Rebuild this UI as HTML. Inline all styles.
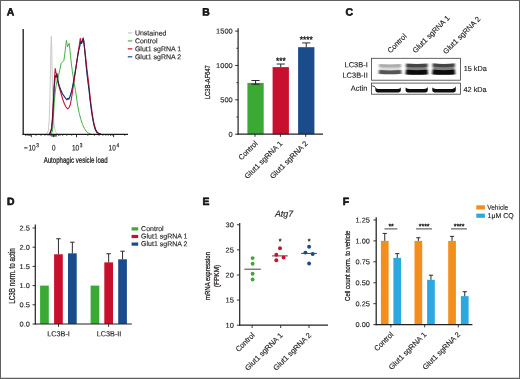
<!DOCTYPE html>
<html lang="en"><head><meta charset="utf-8"><title>Figure</title>
<style>html,body{margin:0;padding:0;background:#fff;overflow:hidden}svg{display:block;will-change:transform}text{font-family:"Liberation Sans", Arial, Helvetica, sans-serif;fill:#231F20;stroke:#231F20;stroke-width:0.14px}</style></head><body>
<svg width="520" height="379" viewBox="0 0 520 379">
<defs><filter id="b1" x="-20%" y="-80%" width="140%" height="260%"><feGaussianBlur stdDeviation="0.9 0.75"/></filter><filter id="b2" x="-20%" y="-80%" width="140%" height="260%"><feGaussianBlur stdDeviation="0.6 0.5"/></filter></defs>
<rect x="0" y="0" width="520" height="379" fill="#fff"/>
<text transform="translate(6.7 15.4) rotate(0.1)" font-size="10.4" font-weight="bold" fill="#000" style="stroke:#000;stroke-width:0.55px;stroke-linejoin:round">A</text>
<text transform="translate(202.2 15.4) rotate(0.1)" font-size="10.4" font-weight="bold" fill="#000" style="stroke:#000;stroke-width:0.55px;stroke-linejoin:round">B</text>
<text transform="translate(345.5 15.4) rotate(0.1)" font-size="10.4" font-weight="bold" fill="#000" style="stroke:#000;stroke-width:0.55px;stroke-linejoin:round">C</text>
<text transform="translate(6.9 205.0) rotate(0.1)" font-size="10.4" font-weight="bold" fill="#000" style="stroke:#000;stroke-width:0.55px;stroke-linejoin:round">D</text>
<text transform="translate(202.6 205.0) rotate(0.1)" font-size="10.4" font-weight="bold" fill="#000" style="stroke:#000;stroke-width:0.55px;stroke-linejoin:round">E</text>
<text transform="translate(342.8 205.0) rotate(0.1)" font-size="10.4" font-weight="bold" fill="#000" style="stroke:#000;stroke-width:0.55px;stroke-linejoin:round">F</text>
<g id="panelA">
<polyline points="46.5,134.0 48.3,131.0 49.2,120.0 49.9,100.0 50.5,70.0 51.0,44.0 51.3,36.4 51.7,47.0 52.3,80.0 53.0,108.0 54.0,125.0 55.5,132.0 58.0,134.0" fill="none" stroke="#C4C4C4" stroke-width="0.9" stroke-linejoin="round" stroke-linecap="round"/>
<polyline points="51.5,134.0 52.6,130.0 53.4,118.0 54.2,104.0 55.0,94.0 56.0,86.0 57.2,80.0 58.5,76.0 59.8,69.6 61.2,63.4 62.5,61.8 63.8,60.8 64.5,56.0 65.2,50.5 65.8,45.6 66.4,40.3 67.0,43.8 67.5,46.8 68.3,45.0 69.2,43.3 69.8,48.5 70.5,55.5 71.4,64.0 72.4,71.5 73.3,77.5 74.3,83.5 75.5,90.5 76.9,100.0 77.9,107.0 79.3,113.5 80.9,119.5 82.6,124.6 84.4,128.5 86.3,131.3 88.3,133.0 90.5,134.0" fill="none" stroke="#45B340" stroke-width="1.0" stroke-linejoin="round" stroke-linecap="round"/>
<polyline points="49.8,134.0 51.6,129.0 52.6,118.0 53.4,104.0 54.2,88.0 55.0,78.0 55.7,75.5 56.3,77.0 57.0,73.5 57.7,78.0 58.4,83.0 59.4,86.5 60.8,90.0 62.3,93.5 64.0,96.0 65.6,98.3 67.0,99.8 68.0,98.2 68.8,99.2 70.0,96.5 71.4,92.0 72.6,86.5 73.8,80.0 75.0,73.0 76.2,65.5 77.4,58.0 78.6,51.0 79.8,46.0 80.8,41.8 81.6,43.2 82.4,40.4 83.2,38.0 83.9,41.4 84.5,48.0 85.4,57.5 86.5,69.5 87.7,80.0 89.0,90.0 89.9,98.5 90.7,105.0 91.5,111.0 92.4,117.0 93.3,122.0 94.2,126.0 95.3,129.5 96.6,132.0 98.2,133.4 100.4,134.0" fill="none" stroke="#1F5596" stroke-width="1.05" stroke-linejoin="round" stroke-linecap="round"/>
<polyline points="49.4,134.0 51.2,130.0 52.2,122.0 53.0,108.0 53.8,92.0 54.5,78.0 55.2,68.6 55.9,72.0 56.7,76.0 57.6,81.0 58.8,85.5 60.2,90.5 61.5,95.0 63.0,100.0 64.5,104.0 66.0,107.0 67.6,108.8 69.0,107.6 70.2,105.0 71.2,100.0 72.3,93.0 73.4,85.5 74.6,77.0 75.8,69.0 77.0,60.5 78.2,52.0 79.3,45.0 80.3,38.4 81.0,41.5 81.6,43.4 82.4,41.0 83.0,39.6 83.7,42.5 84.6,48.0 85.6,56.5 86.6,66.0 87.6,74.5 88.6,82.3 89.4,90.0 90.3,98.5 91.1,105.0 91.9,111.0 92.8,117.0 93.7,122.0 94.6,126.0 95.7,129.5 97.0,132.0 98.6,133.4 100.6,134.0" fill="none" stroke="#CC1236" stroke-width="1.1" stroke-linejoin="round" stroke-linecap="round"/>
<g style="mix-blend-mode:multiply" opacity="0.6">
<polyline points="49.8,134.0 51.6,129.0 52.6,118.0 53.4,104.0 54.2,88.0 55.0,78.0 55.7,75.5 56.3,77.0 57.0,73.5 57.7,78.0 58.4,83.0 59.4,86.5 60.8,90.0 62.3,93.5 64.0,96.0 65.6,98.3 67.0,99.8 68.0,98.2 68.8,99.2 70.0,96.5 71.4,92.0 72.6,86.5 73.8,80.0 75.0,73.0 76.2,65.5 77.4,58.0 78.6,51.0 79.8,46.0 80.8,41.8 81.6,43.2 82.4,40.4 83.2,38.0 83.9,41.4 84.5,48.0 85.4,57.5 86.5,69.5 87.7,80.0 89.0,90.0 89.9,98.5 90.7,105.0 91.5,111.0 92.4,117.0 93.3,122.0 94.2,126.0 95.3,129.5 96.6,132.0 98.2,133.4 100.4,134.0" fill="none" stroke="#1F5596" stroke-width="1.05" stroke-linejoin="round" stroke-linecap="round"/>
</g>
<line x1="23.2" y1="29" x2="23.2" y2="134.9" stroke="#1a1a1a" stroke-width="1.3"/>
<line x1="22.6" y1="134.3" x2="128" y2="134.3" stroke="#1a1a1a" stroke-width="1.3"/>
<line x1="31.3" y1="134.3" x2="31.3" y2="137.2" stroke="#1a1a1a" stroke-width="0.9"/>
<line x1="53.8" y1="134.3" x2="53.8" y2="137.2" stroke="#1a1a1a" stroke-width="0.9"/>
<line x1="76.5" y1="134.3" x2="76.5" y2="137.2" stroke="#1a1a1a" stroke-width="0.9"/>
<line x1="113.6" y1="134.3" x2="113.6" y2="137.2" stroke="#1a1a1a" stroke-width="0.9"/>
<line x1="25.5" y1="134.3" x2="25.5" y2="136.0" stroke="#1a1a1a" stroke-width="0.6"/>
<line x1="27" y1="134.3" x2="27" y2="136.0" stroke="#1a1a1a" stroke-width="0.6"/>
<line x1="28.3" y1="134.3" x2="28.3" y2="136.0" stroke="#1a1a1a" stroke-width="0.6"/>
<line x1="29.4" y1="134.3" x2="29.4" y2="136.0" stroke="#1a1a1a" stroke-width="0.6"/>
<line x1="30.3" y1="134.3" x2="30.3" y2="136.0" stroke="#1a1a1a" stroke-width="0.6"/>
<line x1="36" y1="134.3" x2="36" y2="136.0" stroke="#1a1a1a" stroke-width="0.6"/>
<line x1="41" y1="134.3" x2="41" y2="136.0" stroke="#1a1a1a" stroke-width="0.6"/>
<line x1="45" y1="134.3" x2="45" y2="136.0" stroke="#1a1a1a" stroke-width="0.6"/>
<line x1="48" y1="134.3" x2="48" y2="136.0" stroke="#1a1a1a" stroke-width="0.6"/>
<line x1="50" y1="134.3" x2="50" y2="136.0" stroke="#1a1a1a" stroke-width="0.6"/>
<line x1="58.5" y1="134.3" x2="58.5" y2="136.0" stroke="#1a1a1a" stroke-width="0.6"/>
<line x1="60" y1="134.3" x2="60" y2="136.0" stroke="#1a1a1a" stroke-width="0.6"/>
<line x1="62.7" y1="134.3" x2="62.7" y2="136.0" stroke="#1a1a1a" stroke-width="0.6"/>
<line x1="66.7" y1="134.3" x2="66.7" y2="136.0" stroke="#1a1a1a" stroke-width="0.6"/>
<line x1="71.7" y1="134.3" x2="71.7" y2="136.0" stroke="#1a1a1a" stroke-width="0.6"/>
<line x1="87.8" y1="134.3" x2="87.8" y2="136.0" stroke="#1a1a1a" stroke-width="0.6"/>
<line x1="94.4" y1="134.3" x2="94.4" y2="136.0" stroke="#1a1a1a" stroke-width="0.6"/>
<line x1="99.1" y1="134.3" x2="99.1" y2="136.0" stroke="#1a1a1a" stroke-width="0.6"/>
<line x1="102.8" y1="134.3" x2="102.8" y2="136.0" stroke="#1a1a1a" stroke-width="0.6"/>
<line x1="105.8" y1="134.3" x2="105.8" y2="136.0" stroke="#1a1a1a" stroke-width="0.6"/>
<line x1="108.3" y1="134.3" x2="108.3" y2="136.0" stroke="#1a1a1a" stroke-width="0.6"/>
<line x1="110.5" y1="134.3" x2="110.5" y2="136.0" stroke="#1a1a1a" stroke-width="0.6"/>
<line x1="112.2" y1="134.3" x2="112.2" y2="136.0" stroke="#1a1a1a" stroke-width="0.6"/>
<line x1="124.8" y1="134.3" x2="124.8" y2="136.0" stroke="#1a1a1a" stroke-width="0.6"/>
<line x1="51.2" y1="134.3" x2="51.2" y2="136.6" stroke="#1a1a1a" stroke-width="0.6"/>
<line x1="51.95" y1="134.3" x2="51.95" y2="136.6" stroke="#1a1a1a" stroke-width="0.6"/>
<line x1="52.7" y1="134.3" x2="52.7" y2="136.6" stroke="#1a1a1a" stroke-width="0.6"/>
<line x1="53.45" y1="134.3" x2="53.45" y2="136.6" stroke="#1a1a1a" stroke-width="0.6"/>
<line x1="54.2" y1="134.3" x2="54.2" y2="136.6" stroke="#1a1a1a" stroke-width="0.6"/>
<line x1="54.95" y1="134.3" x2="54.95" y2="136.6" stroke="#1a1a1a" stroke-width="0.6"/>
<line x1="55.7" y1="134.3" x2="55.7" y2="136.6" stroke="#1a1a1a" stroke-width="0.6"/>
<line x1="56.45" y1="134.3" x2="56.45" y2="136.6" stroke="#1a1a1a" stroke-width="0.6"/>
<text transform="translate(23.9 150.6) rotate(0.1) scale(0.8 1)" font-size="8" style="stroke-width:0.2px">−<tspan dx="1.1">10</tspan><tspan font-size="6" dx="0.9" dy="-3.5">3</tspan></text>
<text transform="translate(52.0 150.6) rotate(0.1) scale(0.8 1)" font-size="8" style="stroke-width:0.2px">0</text>
<text transform="translate(72.0 150.6) rotate(0.1) scale(0.8 1)" font-size="8" style="stroke-width:0.2px">10<tspan font-size="6" dx="0.9" dy="-3.5">3</tspan></text>
<text transform="translate(108.6 150.6) rotate(0.1) scale(0.8 1)" font-size="8" style="stroke-width:0.2px">10<tspan font-size="6" dx="0.9" dy="-3.5">4</tspan></text>
<text transform="translate(75.6 162.8) rotate(0.1)" font-size="8" text-anchor="middle" textLength="63.9" lengthAdjust="spacingAndGlyphs" style="stroke-width:0.28px">Autophagic vesicle load</text>
<line x1="127.8" y1="32.95" x2="132.3" y2="32.95" stroke="#C9C9C9" stroke-width="1.2"/>
<text transform="translate(134.9 35.35) rotate(0.1)" font-size="7">Unstained</text>
<line x1="127.8" y1="40.900000000000006" x2="132.3" y2="40.900000000000006" stroke="#4DB748" stroke-width="1.2"/>
<text transform="translate(134.9 43.300000000000004) rotate(0.1)" font-size="7">Control</text>
<line x1="127.8" y1="48.85" x2="132.3" y2="48.85" stroke="#C8102E" stroke-width="1.2"/>
<text transform="translate(134.9 51.25) rotate(0.1)" font-size="7">Glut1 sgRNA 1</text>
<line x1="127.8" y1="56.800000000000004" x2="132.3" y2="56.800000000000004" stroke="#1A4C8B" stroke-width="1.2"/>
<text transform="translate(134.9 59.2) rotate(0.1)" font-size="7">Glut1 sgRNA 2</text>
</g>
<g id="panelB">
<rect x="247.40" y="82.92" width="16.30" height="51.28" fill="#3BAA34"/>
<rect x="272.60" y="67.11" width="16.30" height="67.09" fill="#C8102E"/>
<rect x="298.10" y="47.18" width="16.30" height="87.02" fill="#1A4C8B"/>
<line x1="255.55" y1="80.51406" x2="255.55" y2="84.22601999999999" stroke="#231F20" stroke-width="0.95"/>
<line x1="251.45000000000002" y1="80.51406" x2="259.65000000000003" y2="80.51406" stroke="#231F20" stroke-width="0.95"/>
<line x1="251.45000000000002" y1="84.22601999999999" x2="259.65000000000003" y2="84.22601999999999" stroke="#231F20" stroke-width="0.95"/>
<line x1="280.75" y1="64.01646" x2="280.75" y2="67.10976" stroke="#231F20" stroke-width="0.95"/>
<line x1="276.65" y1="64.01646" x2="284.85" y2="64.01646" stroke="#231F20" stroke-width="0.95"/>
<line x1="306.25" y1="42.91328" x2="306.25" y2="47.17515999999999" stroke="#231F20" stroke-width="0.95"/>
<line x1="302.15" y1="42.91328" x2="310.35" y2="42.91328" stroke="#231F20" stroke-width="0.95"/>
<line x1="238.1" y1="28.3" x2="238.1" y2="134.8" stroke="#222" stroke-width="1.2"/>
<line x1="237.5" y1="134.2" x2="323" y2="134.2" stroke="#222" stroke-width="1.2"/>
<line x1="235.2" y1="134.2" x2="238.1" y2="134.2" stroke="#1a1a1a" stroke-width="0.9"/>
<text transform="translate(232.7 136.7) rotate(0.1) scale(1.07 1)" font-size="7" text-anchor="end">0</text>
<line x1="235.2" y1="99.82999999999998" x2="238.1" y2="99.82999999999998" stroke="#1a1a1a" stroke-width="0.9"/>
<text transform="translate(232.7 102.32999999999998) rotate(0.1) scale(1.07 1)" font-size="7" text-anchor="end">500</text>
<line x1="235.2" y1="65.46" x2="238.1" y2="65.46" stroke="#1a1a1a" stroke-width="0.9"/>
<text transform="translate(232.7 67.96) rotate(0.1) scale(1.07 1)" font-size="7" text-anchor="end">1000</text>
<line x1="235.2" y1="31.08999999999999" x2="238.1" y2="31.08999999999999" stroke="#1a1a1a" stroke-width="0.9"/>
<text transform="translate(232.7 33.58999999999999) rotate(0.1) scale(1.07 1)" font-size="7" text-anchor="end">1500</text>
<line x1="236.3" y1="117.01499999999999" x2="238.1" y2="117.01499999999999" stroke="#222" stroke-width="0.8"/>
<line x1="236.3" y1="82.64499999999998" x2="238.1" y2="82.64499999999998" stroke="#222" stroke-width="0.8"/>
<line x1="236.3" y1="48.27499999999999" x2="238.1" y2="48.27499999999999" stroke="#222" stroke-width="0.8"/>
<line x1="255.0" y1="134.2" x2="255.0" y2="136.8" stroke="#1a1a1a" stroke-width="0.9"/>
<line x1="280.4" y1="134.2" x2="280.4" y2="136.8" stroke="#1a1a1a" stroke-width="0.9"/>
<line x1="305.7" y1="134.2" x2="305.7" y2="136.8" stroke="#1a1a1a" stroke-width="0.9"/>
<text transform="translate(280.8 63.5) rotate(0.1)" font-size="8.4" text-anchor="middle" style="stroke-width:0.35px">***</text>
<text transform="translate(306.2 42.2) rotate(0.1)" font-size="8.4" text-anchor="middle" style="stroke-width:0.35px">****</text>
<text transform="translate(209.5 82.2) rotate(-90)" font-size="8" text-anchor="middle" textLength="34.2" lengthAdjust="spacingAndGlyphs" style="stroke-width:0.28px">LC3B-AF647</text>
<text transform="translate(258.09999999999997 144.0) rotate(-45)" font-size="7.55" text-anchor="end" textLength="23.4" lengthAdjust="spacingAndGlyphs">Control</text>
<text transform="translate(282.9 144.0) rotate(-45)" font-size="7.55" text-anchor="end">Glut1 sgRNA 1</text>
<text transform="translate(308.2 144.0) rotate(-45)" font-size="7.55" text-anchor="end">Glut1 sgRNA 2</text>
</g>
<g id="panelC">
<text transform="translate(390.4 53.4) rotate(-45)" font-size="7.45" textLength="23.6" lengthAdjust="spacingAndGlyphs">Control</text>
<text transform="translate(415.4 53.4) rotate(-45)" font-size="7.45">Glut1 sgRNA 1</text>
<text transform="translate(446.1 54.4) rotate(-45)" font-size="7.45">Glut1 sgRNA 2</text>
<rect x="371.4" y="58.3" width="89.0" height="21.9" fill="#fff" stroke="#3f3f3f" stroke-width="0.8"/>
<rect x="371.4" y="83.1" width="89.0" height="11.1" fill="#fff" stroke="#3f3f3f" stroke-width="0.8"/>
<g filter="url(#b1)">
<rect x="379.20" y="64.60" width="21.80" height="9.60" fill="#DADADA"/>
<path d="M379.0 65.50 Q390.1 66.50 401.2 65.50" fill="none" stroke="#ADADAD" stroke-width="3.0"/>
<path d="M378.8 71.90 Q390.1 72.90 401.4 71.90" fill="none" stroke="#555555" stroke-width="3.9"/>
<rect x="406.20" y="64.20" width="21.20" height="10.40" fill="#808080"/>
<path d="M406.0 65.10 Q416.8 66.10 427.6 65.10" fill="none" stroke="#444444" stroke-width="3.4"/>
<path d="M405.8 72.00 Q416.8 73.00 427.8 72.00" fill="none" stroke="#080808" stroke-width="4.7"/>
<rect x="432.80" y="64.20" width="21.80" height="10.40" fill="#808080"/>
<path d="M432.6 64.90 Q443.7 66.30 454.8 64.90" fill="none" stroke="#444444" stroke-width="3.4"/>
<path d="M432.4 71.80 Q443.7 73.20 455.0 71.80" fill="none" stroke="#080808" stroke-width="4.7"/>
</g>
<g filter="url(#b2)" fill="#0a0a0a">
<path d="M375.4 87.4 L375.4 90.6 Q375.4 92.4 377.59999999999997 92.4 L398.6 92.4 Q400.8 92.4 400.8 90.6 L400.8 87.4 Q399.8 89.0 397.2 89.0 L379.0 89.0 Q376.4 89.0 375.4 87.4 Z"/>
<path d="M405.6 87.6 L405.6 90.6 Q405.6 92.4 407.8 92.4 L425.6 92.4 Q427.8 92.4 427.8 90.6 L427.8 87.2 Q426.8 89.0 424.2 89.0 L409.20000000000005 89.0 Q406.6 89.0 405.6 87.6 Z"/>
<path d="M432.3 87.6 L432.3 90.6 Q432.3 92.4 434.5 92.4 L453.6 92.4 Q455.8 92.4 455.8 90.6 L455.8 86.2 Q454.8 89.0 452.2 89.0 L435.90000000000003 89.0 Q433.3 89.0 432.3 87.6 Z"/>
</g>
<path d="M372.3 85.9 Q374.4 85.9 375.6 87.6" fill="none" stroke="#2a2a2a" stroke-width="1.0" filter="url(#b2)"/>
<text transform="translate(367.7 67.3) rotate(0.1)" font-size="7.45" text-anchor="end">LC3B-I</text>
<text transform="translate(367.7 77.7) rotate(0.1)" font-size="7.45" text-anchor="end">LC3B-II</text>
<text transform="translate(367.4 90.7) rotate(0.1)" font-size="7.45" text-anchor="end">Actin</text>
<text transform="translate(463.7 70.9) rotate(0.1)" font-size="7.3">15 kDa</text>
<text transform="translate(463.5 91.9) rotate(0.1)" font-size="7.3">42 kDa</text>
</g>
<g id="panelD">
<rect x="40.10" y="285.60" width="8.70" height="38.40" fill="#3BAA34"/>
<rect x="54.10" y="254.30" width="8.70" height="69.70" fill="#C8102E"/>
<rect x="68.00" y="253.34" width="8.70" height="70.66" fill="#1A4C8B"/>
<rect x="90.60" y="285.60" width="8.70" height="38.40" fill="#3BAA34"/>
<rect x="104.30" y="262.37" width="8.70" height="61.63" fill="#C8102E"/>
<rect x="118.20" y="259.30" width="8.70" height="64.70" fill="#1A4C8B"/>
<line x1="58.45" y1="238.752" x2="58.45" y2="254.304" stroke="#231F20" stroke-width="0.95"/>
<line x1="56.25" y1="238.752" x2="60.650000000000006" y2="238.752" stroke="#231F20" stroke-width="0.95"/>
<line x1="72.35" y1="242.20800000000003" x2="72.35" y2="253.344" stroke="#231F20" stroke-width="0.95"/>
<line x1="70.14999999999999" y1="242.20800000000003" x2="74.55" y2="242.20800000000003" stroke="#231F20" stroke-width="0.95"/>
<line x1="108.64999999999999" y1="253.728" x2="108.64999999999999" y2="262.368" stroke="#231F20" stroke-width="0.95"/>
<line x1="106.44999999999999" y1="253.728" x2="110.85" y2="253.728" stroke="#231F20" stroke-width="0.95"/>
<line x1="122.55" y1="251.232" x2="122.55" y2="259.296" stroke="#231F20" stroke-width="0.95"/>
<line x1="120.35" y1="251.232" x2="124.75" y2="251.232" stroke="#231F20" stroke-width="0.95"/>
<line x1="35.3" y1="224.6" x2="35.3" y2="324.6" stroke="#222" stroke-width="1.2"/>
<line x1="34.7" y1="324.0" x2="131.8" y2="324.0" stroke="#222" stroke-width="1.2"/>
<line x1="32.5" y1="324.0" x2="35.3" y2="324.0" stroke="#222" stroke-width="0.9"/>
<text transform="translate(29.9 326.5) rotate(0.1) scale(1.06 1)" font-size="7" text-anchor="end">0.0</text>
<line x1="32.5" y1="304.8" x2="35.3" y2="304.8" stroke="#222" stroke-width="0.9"/>
<text transform="translate(29.9 307.3) rotate(0.1) scale(1.06 1)" font-size="7" text-anchor="end">0.5</text>
<line x1="32.5" y1="285.6" x2="35.3" y2="285.6" stroke="#222" stroke-width="0.9"/>
<text transform="translate(29.9 288.1) rotate(0.1) scale(1.06 1)" font-size="7" text-anchor="end">1.0</text>
<line x1="32.5" y1="266.4" x2="35.3" y2="266.4" stroke="#222" stroke-width="0.9"/>
<text transform="translate(29.9 268.9) rotate(0.1) scale(1.06 1)" font-size="7" text-anchor="end">1.5</text>
<line x1="32.5" y1="247.2" x2="35.3" y2="247.2" stroke="#222" stroke-width="0.9"/>
<text transform="translate(29.9 249.7) rotate(0.1) scale(1.06 1)" font-size="7" text-anchor="end">2.0</text>
<line x1="32.5" y1="228.0" x2="35.3" y2="228.0" stroke="#222" stroke-width="0.9"/>
<text transform="translate(29.9 230.5) rotate(0.1) scale(1.06 1)" font-size="7" text-anchor="end">2.5</text>
<line x1="58.5" y1="324.0" x2="58.5" y2="326.9" stroke="#222" stroke-width="0.9"/>
<line x1="108.6" y1="324.0" x2="108.6" y2="326.9" stroke="#222" stroke-width="0.9"/>
<text transform="translate(58.5 336.2) rotate(0.1)" font-size="7.3" text-anchor="middle">LC3B-I</text>
<text transform="translate(109.0 336.2) rotate(0.1)" font-size="7.3" text-anchor="middle">LC3B-II</text>
<text transform="translate(14.6 276.0) rotate(-90)" font-size="8.2" text-anchor="middle" textLength="55.4" lengthAdjust="spacingAndGlyphs" style="stroke-width:0.28px">LC3B norm. to actin</text>
<rect x="131.60" y="227.30" width="6.60" height="3.20" fill="#3BAA34"/>
<text transform="translate(141.1 230.9) rotate(0.1)" font-size="7">Control</text>
<rect x="131.60" y="234.90" width="6.60" height="3.20" fill="#C8102E"/>
<text transform="translate(141.1 238.5) rotate(0.1)" font-size="7">Glut1 sgRNA 1</text>
<rect x="131.60" y="242.50" width="6.60" height="3.20" fill="#1A4C8B"/>
<text transform="translate(141.1 246.1) rotate(0.1)" font-size="7">Glut1 sgRNA 2</text>
</g>
<g id="panelE">
<text transform="translate(284.0 216.7) rotate(0.1)" font-size="8.9" text-anchor="middle" font-style="italic">Atg7</text>
<line x1="239.7" y1="222.9" x2="239.7" y2="325.8" stroke="#222" stroke-width="1.2"/>
<line x1="239.1" y1="325.2" x2="328" y2="325.2" stroke="#222" stroke-width="1.2"/>
<line x1="236.9" y1="325.2" x2="239.7" y2="325.2" stroke="#222" stroke-width="0.9"/>
<text transform="translate(233.8 327.7) rotate(0.1) scale(1.07 1)" font-size="7" text-anchor="end">10</text>
<line x1="236.9" y1="300.09999999999997" x2="239.7" y2="300.09999999999997" stroke="#222" stroke-width="0.9"/>
<text transform="translate(233.8 302.59999999999997) rotate(0.1) scale(1.07 1)" font-size="7" text-anchor="end">15</text>
<line x1="236.9" y1="275.0" x2="239.7" y2="275.0" stroke="#222" stroke-width="0.9"/>
<text transform="translate(233.8 277.5) rotate(0.1) scale(1.07 1)" font-size="7" text-anchor="end">20</text>
<line x1="236.9" y1="249.89999999999998" x2="239.7" y2="249.89999999999998" stroke="#222" stroke-width="0.9"/>
<text transform="translate(233.8 252.39999999999998) rotate(0.1) scale(1.07 1)" font-size="7" text-anchor="end">25</text>
<line x1="236.9" y1="224.79999999999998" x2="239.7" y2="224.79999999999998" stroke="#222" stroke-width="0.9"/>
<text transform="translate(233.8 227.29999999999998) rotate(0.1) scale(1.07 1)" font-size="7" text-anchor="end">30</text>
<line x1="252.1" y1="325.2" x2="252.1" y2="328.0" stroke="#222" stroke-width="0.9"/>
<line x1="280.7" y1="325.2" x2="280.7" y2="328.0" stroke="#222" stroke-width="0.9"/>
<line x1="309.0" y1="325.2" x2="309.0" y2="328.0" stroke="#222" stroke-width="0.9"/>
<line x1="244.4" y1="269.2" x2="260.8" y2="269.2" stroke="#4A3B47" stroke-width="1.0"/>
<line x1="272.1" y1="255.9" x2="287.8" y2="255.9" stroke="#4A3B47" stroke-width="1.0"/>
<line x1="301.2" y1="253.4" x2="316.9" y2="253.4" stroke="#4A3B47" stroke-width="1.0"/>
<circle cx="252.6" cy="258.1" r="1.95" fill="#3BAA34"/>
<circle cx="252.6" cy="263.8" r="1.95" fill="#3BAA34"/>
<circle cx="252.6" cy="273.8" r="1.95" fill="#3BAA34"/>
<circle cx="252.6" cy="279.5" r="1.95" fill="#3BAA34"/>
<circle cx="280.0" cy="248.3" r="1.95" fill="#C8102E"/>
<circle cx="276.3" cy="254.8" r="1.95" fill="#C8102E"/>
<circle cx="283.6" cy="257.5" r="1.95" fill="#C8102E"/>
<circle cx="276.3" cy="260.2" r="1.95" fill="#C8102E"/>
<circle cx="309.1" cy="246.8" r="1.95" fill="#1A4C8B"/>
<circle cx="305.4" cy="252.6" r="1.95" fill="#1A4C8B"/>
<circle cx="312.7" cy="254.0" r="1.95" fill="#1A4C8B"/>
<circle cx="309.1" cy="263.5" r="1.95" fill="#1A4C8B"/>
<text transform="translate(280.0 243.4) rotate(0.1)" font-size="7" text-anchor="middle" font-weight="bold" fill="#4A3B3B">*</text>
<text transform="translate(309.1 243.4) rotate(0.1)" font-size="7" text-anchor="middle" font-weight="bold" fill="#4A3B3B">*</text>
<text transform="translate(210.2 276.0) rotate(-90)" font-size="8" text-anchor="middle" textLength="48.0" lengthAdjust="spacingAndGlyphs" style="stroke-width:0.28px">mRNA expression</text>
<text transform="translate(219.0 276.0) rotate(-90)" font-size="8" text-anchor="middle" textLength="22.6" lengthAdjust="spacingAndGlyphs" style="stroke-width:0.28px">(FPKM)</text>
<text transform="translate(255.2 335.7) rotate(-45)" font-size="7.55" text-anchor="end" textLength="23.4" lengthAdjust="spacingAndGlyphs">Control</text>
<text transform="translate(283.20000000000005 335.7) rotate(-45)" font-size="7.55" text-anchor="end">Glut1 sgRNA 1</text>
<text transform="translate(311.6 335.7) rotate(-45)" font-size="7.55" text-anchor="end">Glut1 sgRNA 2</text>
</g>
<g id="panelF">
<rect x="380.90" y="240.90" width="7.70" height="83.70" fill="#F28E1C"/>
<rect x="393.40" y="257.89" width="7.70" height="66.71" fill="#2BA8E0"/>
<rect x="414.50" y="240.90" width="7.70" height="83.70" fill="#F28E1C"/>
<rect x="427.10" y="279.82" width="7.70" height="44.78" fill="#2BA8E0"/>
<rect x="448.20" y="240.90" width="7.70" height="83.70" fill="#F28E1C"/>
<rect x="460.90" y="296.14" width="7.70" height="28.46" fill="#2BA8E0"/>
<line x1="384.75" y1="233.45070000000004" x2="384.75" y2="240.90000000000003" stroke="#231F20" stroke-width="0.95"/>
<line x1="382.65" y1="233.45070000000004" x2="386.85" y2="233.45070000000004" stroke="#231F20" stroke-width="0.95"/>
<line x1="397.25" y1="253.62240000000003" x2="397.25" y2="257.89110000000005" stroke="#231F20" stroke-width="0.95"/>
<line x1="395.15" y1="253.62240000000003" x2="399.35" y2="253.62240000000003" stroke="#231F20" stroke-width="0.95"/>
<line x1="418.35" y1="237.7194" x2="418.35" y2="240.90000000000003" stroke="#231F20" stroke-width="0.95"/>
<line x1="416.25" y1="237.7194" x2="420.45000000000005" y2="237.7194" stroke="#231F20" stroke-width="0.95"/>
<line x1="430.95000000000005" y1="275.21700000000004" x2="430.95000000000005" y2="279.82050000000004" stroke="#231F20" stroke-width="0.95"/>
<line x1="428.85" y1="275.21700000000004" x2="433.05000000000007" y2="275.21700000000004" stroke="#231F20" stroke-width="0.95"/>
<line x1="452.05" y1="236.3802" x2="452.05" y2="240.90000000000003" stroke="#231F20" stroke-width="0.95"/>
<line x1="449.95" y1="236.3802" x2="454.15000000000003" y2="236.3802" stroke="#231F20" stroke-width="0.95"/>
<line x1="464.75" y1="291.70590000000004" x2="464.75" y2="296.142" stroke="#231F20" stroke-width="0.95"/>
<line x1="462.65" y1="291.70590000000004" x2="466.85" y2="291.70590000000004" stroke="#231F20" stroke-width="0.95"/>
<line x1="376.2" y1="217.2" x2="376.2" y2="325.2" stroke="#222" stroke-width="1.25"/>
<line x1="375.6" y1="324.6" x2="472.4" y2="324.6" stroke="#222" stroke-width="1.2"/>
<line x1="373.4" y1="324.6" x2="376.2" y2="324.6" stroke="#222" stroke-width="0.9"/>
<text transform="translate(369.8 327.1) rotate(0.1) scale(1.05 1)" font-size="7" text-anchor="end">0.00</text>
<line x1="373.4" y1="303.675" x2="376.2" y2="303.675" stroke="#222" stroke-width="0.9"/>
<text transform="translate(369.8 306.175) rotate(0.1) scale(1.05 1)" font-size="7" text-anchor="end">0.25</text>
<line x1="373.4" y1="282.75" x2="376.2" y2="282.75" stroke="#222" stroke-width="0.9"/>
<text transform="translate(369.8 285.25) rotate(0.1) scale(1.05 1)" font-size="7" text-anchor="end">0.50</text>
<line x1="373.4" y1="261.82500000000005" x2="376.2" y2="261.82500000000005" stroke="#222" stroke-width="0.9"/>
<text transform="translate(369.8 264.32500000000005) rotate(0.1) scale(1.05 1)" font-size="7" text-anchor="end">0.75</text>
<line x1="373.4" y1="240.90000000000003" x2="376.2" y2="240.90000000000003" stroke="#222" stroke-width="0.9"/>
<text transform="translate(369.8 243.40000000000003) rotate(0.1) scale(1.05 1)" font-size="7" text-anchor="end">1.00</text>
<line x1="373.4" y1="219.97500000000002" x2="376.2" y2="219.97500000000002" stroke="#222" stroke-width="0.9"/>
<text transform="translate(369.8 222.47500000000002) rotate(0.1) scale(1.05 1)" font-size="7" text-anchor="end">1.25</text>
<line x1="390.9" y1="324.6" x2="390.9" y2="327.4" stroke="#222" stroke-width="0.9"/>
<line x1="424.7" y1="324.6" x2="424.7" y2="327.4" stroke="#222" stroke-width="0.9"/>
<line x1="458.3" y1="324.6" x2="458.3" y2="327.4" stroke="#222" stroke-width="0.9"/>
<line x1="384.5" y1="228.9" x2="397.4" y2="228.9" stroke="#222" stroke-width="0.85"/>
<text transform="translate(391.05 228.4) rotate(0.1)" font-size="6.8" text-anchor="middle" style="stroke-width:0.35px">**</text>
<line x1="416.1" y1="228.9" x2="432.0" y2="228.9" stroke="#222" stroke-width="0.85"/>
<text transform="translate(424.15000000000003 228.4) rotate(0.1)" font-size="6.8" text-anchor="middle" style="stroke-width:0.35px">****</text>
<line x1="451.1" y1="228.9" x2="466.9" y2="228.9" stroke="#222" stroke-width="0.85"/>
<text transform="translate(459.1 228.4) rotate(0.1)" font-size="6.8" text-anchor="middle" style="stroke-width:0.35px">****</text>
<text transform="translate(349.9 265.8) rotate(-90)" font-size="8" text-anchor="middle" textLength="70.2" lengthAdjust="spacingAndGlyphs" style="stroke-width:0.28px">Cell count norm. to vehicle</text>
<text transform="translate(393.79999999999995 335.0) rotate(-45)" font-size="7.55" text-anchor="end" textLength="23.4" lengthAdjust="spacingAndGlyphs">Control</text>
<text transform="translate(427.0 335.0) rotate(-45)" font-size="7.55" text-anchor="end">Glut1 sgRNA 1</text>
<text transform="translate(460.79999999999995 335.0) rotate(-45)" font-size="7.55" text-anchor="end">Glut1 sgRNA 2</text>
<rect x="476.30" y="205.30" width="8.60" height="4.20" fill="#F28E1C"/>
<rect x="476.30" y="213.60" width="8.60" height="4.20" fill="#2BA8E0"/>
<text transform="translate(487.3 209.7) rotate(0.1)" font-size="7" textLength="20.9" lengthAdjust="spacingAndGlyphs">Vehicle</text>
<text transform="translate(487.5 218.0) rotate(0.1)" font-size="7">1μM CQ</text>
</g>
<g fill="#606060"><rect x="0" y="0" width="520" height="1"/><rect x="0" y="0" width="1" height="379"/><rect x="519" y="0" width="1" height="379"/><rect x="0" y="377.75" width="520" height="1.25"/></g>
</svg></body></html>
